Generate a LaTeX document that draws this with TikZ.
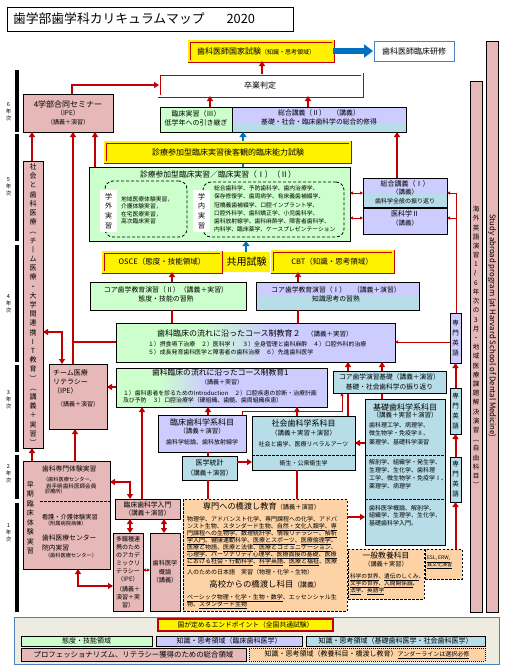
\documentclass[tikz,border=0pt]{standalone}
\usepackage{fontspec}
\setmainfont{Noto Sans CJK JP}
\usetikzlibrary{arrows.meta}
\definecolor{pk}{HTML}{E6B9B8}
\definecolor{gr}{HTML}{CCFFCC}
\definecolor{lv}{HTML}{CCCCFF}
\definecolor{lb}{HTML}{B7DEE8}
\definecolor{og}{HTML}{FDD3A5}
\definecolor{rd}{HTML}{C00000}
\definecolor{bl}{HTML}{0070C0}
\definecolor{lg}{HTML}{EEECE1}
\definecolor{bd}{HTML}{4F81BD}
\newcounter{tn}
\newcommand\fs[2]{\fontsize{#1}{#2}\selectfont}
\newcommand\uln[1]{\underline{#1}}
\newcommand\bx[6]{\node[#6,minimum width={(#4-#2)*1pt},minimum height={(#5-#3)*1pt},inner sep=0pt,outer sep=0pt] (#1) at ({(#2+#4)/2},{(#3+#5)/2}) {};}
\newcommand\tx[4][]{\stepcounter{tn}\node[txt,#1] (t\arabic{tn}) at (#2,#3) {#4};}
\tikzset{
 txt/.style={inner sep=0pt,outer sep=0pt,align=center},
 bk/.style={draw=black,line width=0.8pt},
 pkb/.style={bk,fill=pk},
 grb/.style={bk,fill=gr},
 lvb/.style={bk,fill=lv},
 lbb/.style={bk,fill=lb},
 lvlb/.style={bk,fill=lv,path picture={\fill[lb] (path picture bounding box.south west) rectangle ([yshift=#1]path picture bounding box.south east);}},
 dbl/.style={fill=#1,draw=rd,double=#1,double distance=1.6pt,line width=0.7pt},
 ogd/.style={fill=og,draw=black,line width=0.8pt,dash pattern=on 2.5pt off 1.5pt},
 idash/.style={draw=black,line width=0.8pt,dash pattern=on 3pt off 2pt,rounded corners=8pt},
 dline/.style={draw=black,line width=0.8pt,dash pattern=on 2.5pt off 1.5pt},
 ra/.style={draw=rd,line width=2pt,-{Triangle[length=5pt,width=6pt]}},
 rb/.style={draw=rd,line width=2pt,{Triangle[length=5pt,width=6pt]}-{Triangle[length=5pt,width=6pt]}},
 rl/.style={draw=rd,line width=2pt},
 ta/.style={draw=rd,line width=0.7pt,-{Triangle[length=3pt,width=3pt]}},
 tb/.style={draw=rd,line width=0.7pt,{Triangle[length=3pt,width=3pt]}-{Triangle[length=3pt,width=3pt]}},
 ba/.style={draw=bl,line width=2.5pt,-{Triangle[length=5pt,width=7pt]}},
}
\begin{document}
\begin{tikzpicture}[x=1pt,y=-1pt]
\useasboundingbox (0,0) rectangle (504,672);
\fill[white] (0,0) rectangle (504,672);
% year bars
\fill (15,70) rectangle (19,132);
\fill (15,134) rectangle (19,241);
\fill (15,245) rectangle (19,362);
\fill (15,365) rectangle (19,452);
\fill (15,455) rectangle (19,499);
\fill (15,503) rectangle (19,612);
\tx[font=\fs{5.5}{7}]{8.5}{112}{6\\年\\次}
\tx[font=\fs{5.5}{7}]{8.5}{187}{5\\年\\次}
\tx[font=\fs{5.5}{7}]{8.5}{304}{4\\年\\次}
\tx[font=\fs{5.5}{7}]{8.5}{400}{3\\年\\次}
\tx[font=\fs{5.5}{7}]{8.5}{474}{2\\年\\次}
\tx[font=\fs{5.5}{7}]{8.5}{533}{1\\年\\次}
% title
\bx{title}{7}{7}{293}{31}{bk,fill=white}
\tx[anchor=west,font=\fs{12.8}{14}]{13}{19}{歯学部歯学科カリキュラムマップ\hspace{22pt}2020}
% boxes
\bx{kokushi}{189}{41}{333}{61}{dbl=yellow}
\bx{kenshu}{374}{41}{454}{61}{draw=bd,line width=0.9pt,fill=white}
\bx{sotsu}{159}{74}{362}{96}{dbl=white}
\bx{ipe4}{23}{94}{113}{132}{pkb}
\bx{rj3}{160}{107}{232}{132}{grb}
\bx{sg2}{232}{107}{406}{132}{lvlb=9pt}
\bx{shinryo}{89}{167}{350}{241}{grb}
\bx{gai}{105}{181}{187}{237}{idash}
\bx{nai}{203}{182}{344}{237}{idash}
\bx{gaiw}{100}{190}{117}{232}{fill=white}
\bx{naiw}{193}{190}{210}{232}{fill=white}
\bx{sg1}{363}{178}{447}{207}{lvlb=13pt}
\bx{ika2}{363}{208}{447}{234}{lvb}
\bx{osce}{103}{252}{221}{272}{dbl=yellow}
\bx{kyoyo}{223}{252}{270}{272}{fill=yellow}
\bx{cbt}{272}{251}{393}{272}{dbl=yellow}
\bx{core2}{90}{282}{246}{310}{grb}
\bx{core1}{256}{282}{419}{310}{lvlb=15pt}
\fill[gr] (116,323) rectangle (200,362);
\shade[left color=gr,right color=lv] (200,323) rectangle (270,362);
\fill[lv] (270,323) rectangle (395,362);
\bx{course2}{116}{323}{395}{362}{bk}
\fill[gr] (116,368) rectangle (160,407);
\shade[left color=gr,right color=lv] (160,368) rectangle (205,407);
\fill[lv] (205,368) rectangle (327,407);
\bx{course1}{116}{368}{327}{407}{bk}
\bx{team}{49}{364}{107}{429}{pkb}
\bx{shakai}{23}{161}{43}{448}{pkb}
\bx{rinka}{158}{415}{246}{452}{lvb}
\bx{shaka}{252}{416}{355}{470}{lbb}
\bx{kiso}{365}{399}{445}{545}{lbb}
\bx{toukei}{182}{456}{237}{480}{lbb}
\bx{eng1}{450}{313}{461}{363}{lvb}
\bx{eng2}{450}{388}{461}{434}{lbb}
\bx{eng3}{450}{457}{461}{502}{lbb}
\bx{bar1}{470}{81}{482}{612}{pkb}
\bx{bar2}{486}{41}{498}{612}{pkb}
\bx{souki}{23}{461}{110}{569}{pkb}
\bx{rinnyu}{115}{499}{180}{519}{pkb}
\bx{tashoku}{113}{533}{143}{611}{pkb}
\bx{gairon}{150}{533}{180}{611}{pkb}
\bx{kyo}{183}{499}{347}{611}{ogd}
\bx{ippan}{348}{549}{424}{599}{ogd}
\bx{esl}{425}{549}{462}{579}{ogd}
% connectors passing behind boxes
\draw[ba] (243,0|-shinryo.north) -- (243,0|-sg2.south);
\draw[ra] (348,0|-shaka.north) -- (348,0|-course2.south);
\draw[ra] (382,0|-kiso.north) -- (382,0|-course2.south);
\bx{ace}{105}{142}{350}{162}{dbl=yellow}
\bx{corek}{333}{371}{446}{393}{lbb}
% dashed dividers
\draw[dline] (shaka.west|-0,455) -- (shaka.east|-0,455);
\draw[dline] (kiso.west|-0,455) -- (kiso.east|-0,455);
\draw[dline] (kiso.west|-0,499) -- (kiso.east|-0,499);
\draw[dline] (40,501) -- (souki.east|-0,501);
% texts
\tx{256}{51}{{\fs{8}{9}歯科医師国家試験}{\fs{6}{7}（知識・思考領域）}}
\tx[font=\fs{8}{9}]{414}{51}{歯科医師臨床研修}
\tx[font=\fs{8}{9}]{260}{85}{卒業判定}
\tx[font=\fs{8}{9}]{68}{104}{4学部合同セミナー}
\tx[font=\fs{6.5}{7}]{68}{113}{（IPE）}
\tx[font=\fs{6}{7}]{68}{122}{（講義＋演習）}
\tx[font=\fs{7}{8}]{196}{114}{臨床実習（Ⅲ）}
\tx[font=\fs{7}{8}]{196}{123}{低学年への引き継ぎ}
\tx[font=\fs{6.8}{8}]{319}{113}{総合講義（Ⅱ）　（講義）}
\tx[font=\fs{6.8}{8}]{319}{121.5}{基礎・社会・臨床歯科学の総合的修得}
\tx[font=\fs{8}{9}]{228}{152}{診療参加型臨床実習後客観的臨床能力試験}
\tx[font=\fs{7.8}{9}]{218}{175}{診療参加型臨床実習／臨床実習（Ⅰ）（Ⅱ）}
\tx[font=\fs{7}{9.7}]{108.5}{211}{学\\外\\実\\習}
\tx[font=\fs{7}{9.7}]{201.5}{211}{学\\内\\実\\習}
\tx[anchor=north west,align=left,font=\fs{5.8}{7.4}]{121}{196.5}{地域医療体験実習，\\介護体験実習，\\在宅医療実習，\\高次臨床実習}
\tx[anchor=north west,align=left,font=\fs{5.8}{8.3}]{214}{185.5}{総合歯科学、予防歯科学、歯内治療学、\\保存修復学、歯周病学、有床義歯補綴学、\\冠橋義歯補綴学、口腔インプラント学、\\口腔外科学、歯科矯正学、小児歯科学、\\歯科放射線学、歯科麻酔学、障害者歯科学、\\内科学、臨床薬学、ケースプレゼンテーション}
\tx[font=\fs{7}{8}]{405}{184}{総合講義（Ⅰ）}
\tx[font=\fs{6.5}{7}]{405}{192}{（講義）}
\tx[font=\fs{6}{7}]{405}{201}{歯科学全般の振り返り}
\tx[font=\fs{7}{8}]{405}{214}{医科学Ⅱ}
\tx[font=\fs{6.5}{7}]{405}{223}{（講義）}
\tx[font=\fs{7.5}{8}]{162}{262}{OSCE（態度・技能領域）}
\tx[font=\fs{10}{11}]{246.5}{262}{共用試験}
\tx[font=\fs{7.5}{8}]{332}{261.5}{CBT（知識・思考領域）}
\tx[font=\fs{6.9}{8}]{166}{290}{コア歯学教育演習（Ⅱ）（講義＋実習）}
\tx[font=\fs{6.9}{8}]{166}{299}{態度・技能の習熟}
\tx[font=\fs{6.8}{8}]{336}{290}{コア歯学教育演習（Ⅰ）　（講義＋演習）}
\tx[font=\fs{6.8}{8}]{336}{299}{知識思考の習熟}
\tx[anchor=west]{157}{333}{{\fs{8}{9}歯科臨床の流れに沿ったコース制教育２}{\fs{6.5}{7}　（講義＋実習）}}
\tx[anchor=west,font=\fs{5.9}{7}]{148}{344}{１）摂食嚥下治療　２）医科学Ⅰ　３）全身管理と歯科麻酔　４）口腔外科的治療}
\tx[anchor=west,font=\fs{5.9}{7}]{148}{352}{５）成長発育歯科医学と障害者の歯科治療　６）先進歯科医学}
\tx[anchor=west,font=\fs{7.8}{9}]{152}{373}{歯科臨床の流れに沿ったコース制教育1}
\tx[font=\fs{6}{7}]{222}{382}{（講義＋実習）}
\tx[anchor=west,font=\fs{5.9}{7}]{123}{393}{１）歯科患者を診るためのIntroduction　２）口腔疾患の診断・治療計画}
\tx[anchor=west,font=\fs{5.9}{7}]{123}{400}{及び予防　３）口腔治療学（硬組織、歯髄、歯周組織疾患）}
\tx[anchor=west,font=\fs{7}{8}]{53}{373}{チーム医療}
\tx[anchor=west,font=\fs{7}{8}]{53}{382}{リテラシー}
\tx[anchor=west,font=\fs{7}{8}]{53}{391}{（IPE）}
\tx[font=\fs{6}{7}]{78}{404}{（講義＋演習）}
\tx[font=\fs{7}{9.2}]{33}{304.5}{社\\会\\と\\歯\\科\\医\\療\\︵\\チ\\丨\\ム\\医\\療\\・\\大\\学\\間\\連\\携\\I\\T\\教\\育\\︶\\︵\\講\\義\\＋\\実\\習\\︶}
\tx[font=\fs{8}{9}]{202}{422}{臨床歯科学系科目}
\tx[font=\fs{6.5}{7}]{202}{431}{（講義＋演習）}
\tx[font=\fs{6}{7}]{202}{442}{歯科学総論、歯科放射線学}
\tx[font=\fs{8}{9}]{303.5}{423}{社会歯科学系科目}
\tx[font=\fs{6.5}{7}]{303.5}{433}{（講義＋実習＋演習）}
\tx[font=\fs{6}{7}]{303.5}{444}{社会と歯学、医療リベラルアーツ}
\tx[font=\fs{6}{7}]{303.5}{463}{衛生・公衆衛生学}
\tx[font=\fs{6.7}{8}]{389.5}{377}{コア歯学演習基礎（講義＋演習）}
\tx[font=\fs{6.7}{8}]{389.5}{387}{基礎・社会歯科学の振り返り}
\tx[font=\fs{8}{9}]{405}{407}{基礎歯科学系科目}
\tx[font=\fs{6.5}{7}]{405}{415.5}{（講義＋実習＋演習）}
\tx[anchor=north west,align=left,font=\fs{6}{8.5}]{369}{422}{歯科理工学、病理学、\\微生物学・免疫学Ⅱ、\\薬理学、基礎科学演習}
\tx[anchor=north west,align=left,font=\fs{6}{8.3}]{369}{459}{解剖学、組織学・発生学、\\生理学、生化学、歯科理\\工学、微生物学・免疫学Ⅰ、\\薬理学、病理学}
\tx[anchor=north west,align=left,font=\fs{6}{7.8}]{369}{505}{歯科医学概論、解剖学、\\組織学、生理学、生化学、\\基礎歯科学入門。}
\tx[font=\fs{7}{8}]{209.5}{463}{医学統計}
\tx[font=\fs{6.5}{7}]{209.5}{473}{（講義＋演習）}
\tx[font=\fs{6.5}{10}]{455.5}{338}{専\\門\\英\\語}
\tx[font=\fs{6.5}{10}]{455.5}{411}{専\\門\\英\\語}
\tx[font=\fs{6.5}{10}]{455.5}{479.5}{専\\門\\英\\語}
\tx[font=\fs{6.5}{9.2}]{476}{347}{海\\外\\英\\語\\演\\習\\1\\\rotatebox{90}{～}\\6\\年\\次\\の\\3\\月\\・\\地\\域\\医\\療\\課\\題\\解\\決\\演\\習\\︵\\自\\由\\科\\目\\︶}
\tx[rotate=-90,font=\fs{7.8}{9}]{492}{326}{Study abroad program (at Harvard School of Dental Medicine)}
\tx[font=\fs{7}{9.5}]{30.5}{518}{早\\期\\臨\\床\\体\\験\\実\\習}
\tx[anchor=west,font=\fs{6.8}{8}]{42}{469}{歯科専門体験実習}
\tx[anchor=west,font=\fs{5.2}{6}]{43}{480}{（歯科医療センター、}
\tx[anchor=west,font=\fs{5.6}{6}]{46}{486}{岩手県歯科医師会員}
\tx[anchor=west,font=\fs{5.2}{6}]{45}{492}{診療所）}
\tx[anchor=west,font=\fs{6.2}{7}]{42}{517}{看護・介護体験実習}
\tx[anchor=west,font=\fs{5.2}{6}]{45}{524}{（附属病院病棟）}
\tx[anchor=west,font=\fs{6.8}{8}]{42}{538}{歯科医療センター}
\tx[anchor=west,font=\fs{6.8}{8}]{42}{548}{院内実習}
\tx[anchor=west,font=\fs{5.2}{6}]{45}{556}{（歯科医療センター）}
\tx[font=\fs{6.8}{8}]{147.5}{504.5}{臨床歯科学入門}
\tx[font=\fs{6.5}{7}]{147.5}{513.5}{（講義＋演習）}
\tx[font=\fs{6}{8}]{128}{559}{多職種連\\携のため\\のアカデ\\ミックリ\\テラシー\\（IPE）}
\tx[font=\fs{6}{8}]{128}{597}{（講義＋\\演習＋実\\習）}
\tx[font=\fs{6.2}{8.5}]{165}{572}{歯科医学\\概論\\（講義）}
\tx{261.5}{506}{{\fs{8.2}{9}専門への橋渡し教育}{\fs{6.2}{7}（講義＋演習）}}
\tx[anchor=base west,font=\fs{6}{7}]{187}{521}{物理学、アドバンスト化学、専門課程への化学、アドバ}
\tx[anchor=base west,font=\fs{6}{7}]{187}{528}{ンスト生物、\uln{スタンダード生物}、\uln{自然・文化人類学}、\uln{専}}
\tx[anchor=base west,font=\fs{6}{7}]{187}{535}{\uln{門課程への生物学}、数理統計学、情報リテラシー、\uln{解析}}
\tx[anchor=base west,font=\fs{6}{7}]{187}{542}{\uln{学入門}、健康運動科学、\uln{医療とスポーツ}、\uln{医療倫理学}、}
\tx[anchor=base west,font=\fs{6}{7}]{187}{549}{\uln{医療と物語}、\uln{医療と法律}、\uln{医療とコミュニケーション}、}
\tx[anchor=base west,font=\fs{6}{7}]{187}{556}{\uln{心理学}、\uln{パーソナリティ心理学}、\uln{医療面接の基礎}、\uln{医療}}
\tx[anchor=base west,font=\fs{6}{7}]{187}{563}{\uln{における社会・行動科学}、\uln{科学英語}、\uln{医療と福祉}、医療}
\tx[anchor=base west,font=\fs{6}{7}]{187}{574}{人のための日本語　実習（物理・化学・生物）}
\tx{265}{584}{{\fs{8.4}{9}高校からの橋渡し科目}{\fs{6.8}{7}（講義）}}
\tx[anchor=base west,font=\fs{6}{7}]{187}{599}{\uln{ベーシック物理・化学・生物・数学}、エッセンシャル生}
\tx[anchor=base west,font=\fs{6}{7}]{187}{606}{物、\uln{スタンダード生物}}
\tx[font=\fs{7.8}{9}]{386}{555.5}{一般教養科目}
\tx[font=\fs{6.2}{7}]{386}{564.5}{（講義＋実習）}
\tx[anchor=base west,font=\fs{5.7}{7}]{350}{578}{\uln{科学の世界}、\uln{遺伝のしくみ}、}
\tx[anchor=base west,font=\fs{5.7}{7}]{350}{585}{\uln{文学の世界}、\uln{人間関係論}、}
\tx[anchor=base west,font=\fs{5.7}{7}]{350}{592}{\uln{法学}、\uln{英語学}}
\tx[anchor=base west,font=\fs{5}{6}]{427}{559.5}{\uln{ESL, ERW,}}
\tx[anchor=base west,font=\fs{5}{6}]{427}{566.5}{\uln{異文化演習}}
% connectors
\draw[draw=bl,line width=6pt,-{Triangle[length=9pt,width=13pt]},shorten >=1pt] (kokushi.east) -- (kenshu.west);
\draw[ra] (262,0|-sotsu.north) -- (262,0|-kokushi.south);
\draw[ra] (72,0|-ipe4.north) |- (sotsu.west);
\draw[ra] (210,0|-rj3.north) -- (210,0|-sotsu.south);
\draw[ra] (308,0|-sg2.north) -- (308,0|-sotsu.south);
\draw[ra] (32,0|-shakai.north) -- (32,0|-ipe4.south);
\draw[ra] (73,0|-team.north) -- (73,0|-ipe4.south);
\draw[rl] (course2.west|-0,342) -- (73,342);
\draw[ra] (95,0|-shinryo.north) -- (95,0|-ipe4.south);
\draw[rb] (shakai.east|-0,332) -| (62,0|-team.north);
\draw[ra] (397,0|-sg1.north) -- (397,0|-sg2.south);
\draw[tb] (shinryo.east|-0,193) -- (sg1.west|-0,193);
\draw[tb] (shinryo.east|-0,218) -- (ika2.west|-0,218);
\draw[ta] (456,0|-eng1.north) |- (sg1.east|-0,193);
\draw[ta] (456,218) -- (ika2.east|-0,218);
\draw[ta] (eng1.west|-0,342) -- (course2.east|-0,342);
\draw[ra] (eng2.north) -- (eng1.south);
\draw[ra] (eng3.north) -- (eng2.south);
\draw[ra] (eng3.south|-esl.north) -- (eng3.south);
\draw[ba] (246,0|-kyoyo.north) -- (246,0|-shinryo.south);
\draw[ra] (172,0|-core2.north) -- (172,0|-osce.south);
\draw[ra] (298,0|-core1.north) -- (298,0|-cbt.south);
\draw[rl] (172,0|-course2.north) -- (172,0|-core2.south);
\draw[rl] (298,0|-course2.north) -- (298,0|-core1.south);
\draw[ta] (242,0|-rinka.north) |- (342,411) -- (342,0|-corek.south);
\draw[ra] (course1.west|-0,387) -- (team.east|-0,387);
\draw[ra] (142,0|-rinnyu.north) -- (142,0|-course1.south);
\draw[ra] (208,0|-rinka.north) -- (208,0|-course1.south);
\draw[ra] (297,0|-shaka.north) -- (297,0|-course1.south);
\draw[rl] (208,0|-rinka.south) -- (208,0|-toukei.north);
\draw[ra] (toukei.east|-0,462) -- (shaka.west|-0,462);
\draw[rl] (208,0|-toukei.south) -- (208,0|-kyo.north);
\draw[rl] (297,0|-shaka.south) -- (297,0|-kyo.north);
\draw[ra] (kyo.east|-0,517) -- (kiso.west|-0,517);
\draw[ra] (kiso.west|-0,443) -- (shaka.east|-0,443);
\draw[ra] (32,0|-souki.north) -- (32,0|-shakai.south);
\draw[ra] (75,0|-souki.north) -- (75,0|-team.south);
\draw[rb] (souki.east|-0,482) -| (130,0|-rinnyu.north);
\draw[rb] (130,0|-rinnyu.south) -- (130,0|-tashoku.north);
\draw[rb] (164,0|-rinnyu.south) -- (164,0|-gairon.north);
\draw[tb] (tashoku.east|-0,570) -- (gairon.west|-0,570);
\draw[rb] (78,0|-souki.south) |- (tashoku.west|-0,586);
% legend
\bx{legend}{14}{617}{499}{664}{fill=lg,draw=bd,line width=0.9pt}
\bx{lgy}{158}{619}{333}{631}{fill=yellow,draw=rd,line width=1.2pt}
\bx{lg1}{21}{636}{152}{646}{grb}
\bx{lg2}{156}{636}{302}{646}{lvb}
\bx{lg3}{306}{636}{485}{646}{lbb}
\bx{lg4}{21}{648}{246}{661}{pkb}
\bx{lg5}{249}{648}{485}{661}{fill=og,draw=black,line width=0.8pt,dash pattern=on 1pt off 1pt}
\tx[font=\fs{6.8}{8}]{245.5}{625}{国が定めるエンドポイント（全国共通試験）}
\tx[font=\fs{7}{8}]{86.5}{641}{態度・技能領域}
\tx[font=\fs{7}{8}]{229}{641}{知識・思考領域（臨床歯科医学）}
\tx[font=\fs{7}{8}]{395.5}{641}{知識・思考領域（基礎歯科医学・社会歯科医学）}
\tx[font=\fs{7.4}{8}]{133.5}{654.5}{プロフェッショナリズム、リテラシー獲得のための総合領域}
\tx{367}{654.5}{{\fs{7}{8}知識・思考領域（教養科目・橋渡し教育）}{\fs{6}{7}\uln{アンダーラインは選択必修}}}
\end{tikzpicture}
\end{document}
